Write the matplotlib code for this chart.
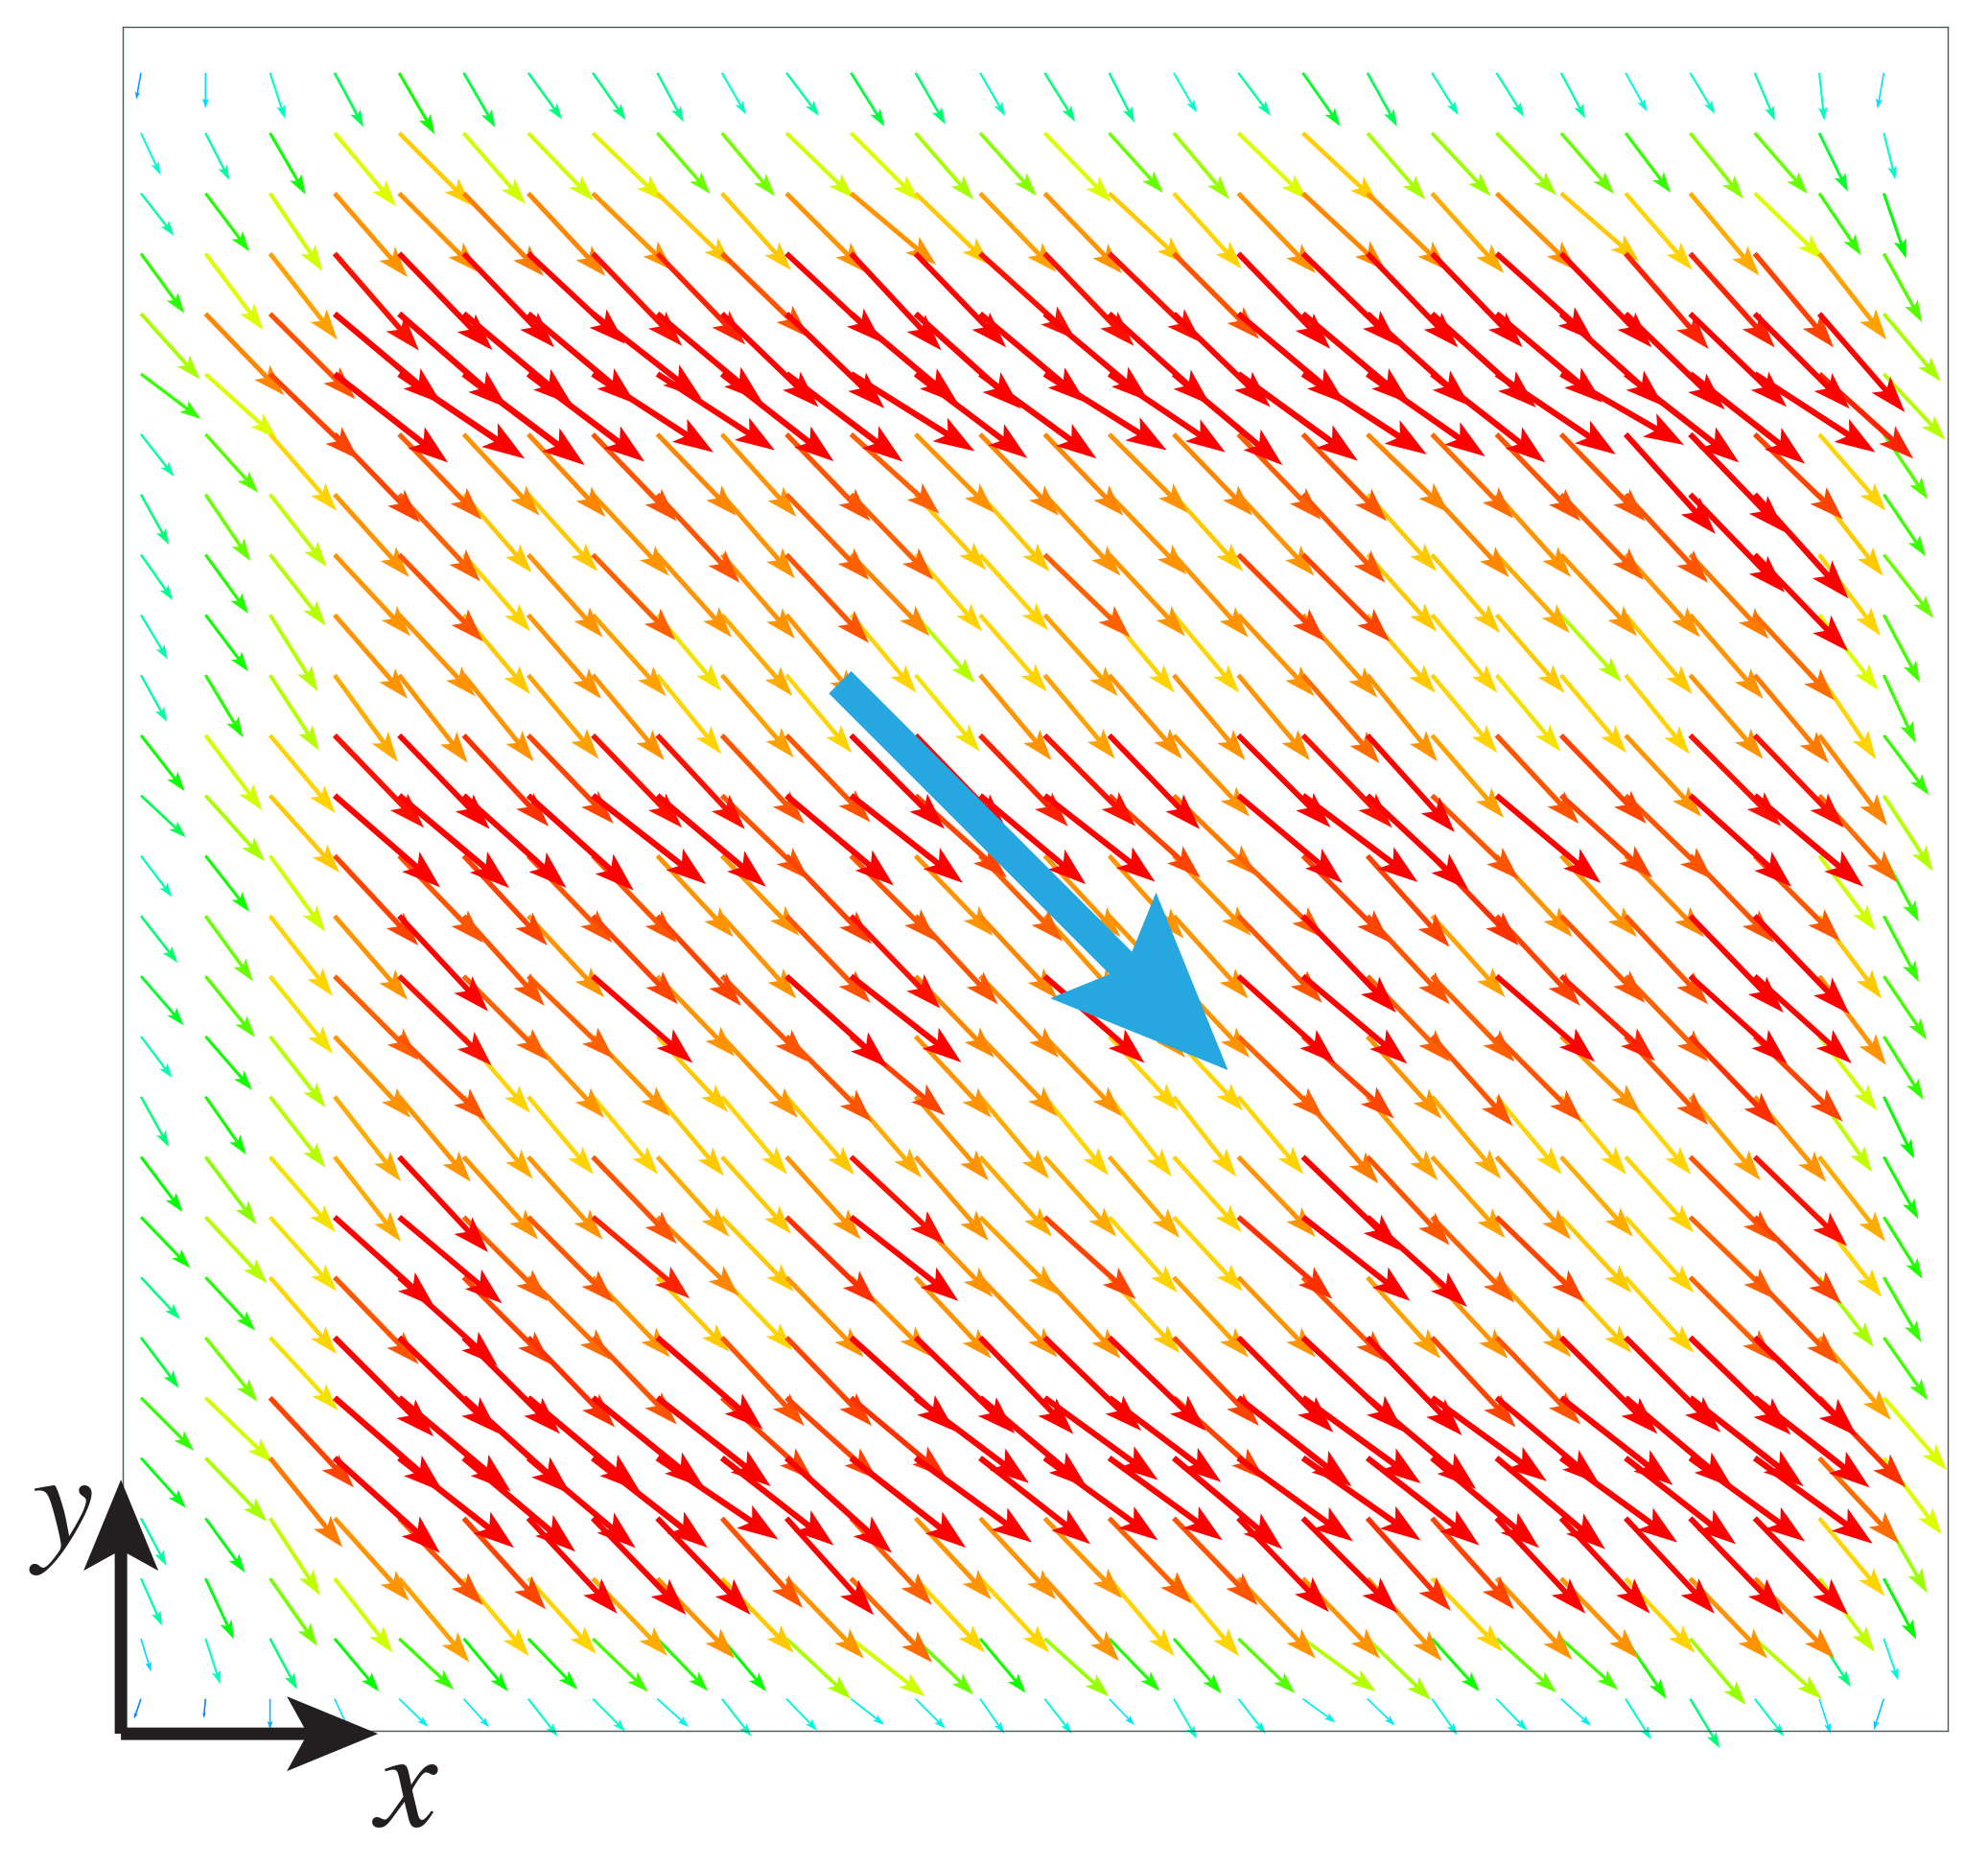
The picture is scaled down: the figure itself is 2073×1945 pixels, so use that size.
import numpy as np
import matplotlib
matplotlib.use('Agg')
import matplotlib.pyplot as plt
from matplotlib.colors import LinearSegmentedColormap, Normalize

plt.rcParams['mathtext.fontset'] = 'stix'

# arrow length, one list per row, top row first
magnitude = np.array([
    [28,37,50,64,74,66,60,60,58,50,56,66,62,52,60,58,48,56,68,64,52,54,54,46,50,54,50,38],
    [48,55,74,100,107,98,98,102,84,86,98,100,92,88,100,84,90,100,107,92,90,90,84,78,88,84,68,50],
    [56,76,98,116,116,120,118,116,108,108,116,116,108,114,116,108,106,116,118,116,112,116,108,106,112,100,78,72],
    [77,100,114,134,140,136,138,134,132,126,136,138,136,134,134,134,126,138,138,136,136,136,136,132,132,128,114,82],
    [92,118,126,146,150,148,146,144,142,140,142,146,148,144,142,142,140,146,146,144,146,144,144,144,140,140,136,92],
    [78,100,128,150,158,158,152,150,146,148,152,152,146,150,150,146,148,154,154,150,150,150,148,150,152,150,132,94],
    [56,82,106,128,124,116,118,126,118,116,126,124,116,118,118,116,118,124,126,118,122,126,126,140,142,128,106,82],
    [60,84,96,116,124,108,108,116,126,116,124,124,108,108,116,116,108,116,126,108,118,116,124,126,142,146,108,78],
    [58,76,94,116,126,106,116,124,116,116,126,118,106,106,124,116,116,128,128,108,108,112,116,116,120,140,106,84],
    [54,74,94,116,116,108,116,114,104,112,116,106,94,106,114,106,106,116,116,108,106,108,94,108,116,122,100,80],
    [56,76,94,112,116,116,114,116,106,114,106,106,104,116,114,116,116,116,122,116,106,104,106,106,116,120,106,78],
    [74,98,106,134,136,130,128,134,134,126,126,138,136,132,134,136,116,136,134,136,114,126,128,116,134,134,118,78],
    [64,92,108,146,150,144,148,150,148,126,146,148,128,144,146,128,120,142,150,144,126,142,128,126,142,148,122,94],
    [54,74,98,128,126,128,126,126,116,116,128,126,116,124,116,116,116,124,128,128,130,116,116,118,126,126,98,78],
    [62,84,106,116,136,126,116,128,128,116,126,134,126,118,116,116,116,126,140,126,114,128,126,126,140,142,108,78],
    [68,82,104,124,134,124,124,138,116,126,142,146,118,118,138,116,116,136,142,124,124,136,132,124,136,136,116,80],
    [54,74,94,116,126,106,116,116,108,116,126,128,116,116,116,106,106,124,128,116,126,126,116,126,130,128,98,78],
    [60,74,94,112,116,112,106,106,108,106,108,112,116,112,106,106,106,106,120,114,112,106,106,106,114,116,96,72],
    [72,88,104,112,136,116,116,126,112,108,116,134,116,112,112,112,106,116,140,126,114,116,112,106,126,134,112,74],
    [74,94,104,140,140,124,126,132,118,108,130,142,116,114,128,106,106,130,142,140,124,128,108,106,124,128,106,76],
    [60,76,106,126,138,128,122,116,108,106,116,116,116,116,116,108,114,116,126,114,116,114,108,106,124,126,92,78],
    [66,86,104,146,144,142,130,126,146,126,128,146,144,140,140,140,128,140,144,142,128,126,142,140,146,148,114,80],
    [78,98,128,150,152,150,152,150,150,128,128,130,148,146,146,146,128,150,152,148,148,140,148,146,150,152,130,100],
    [70,92,120,148,152,152,146,152,152,148,148,152,150,146,146,146,148,148,150,148,146,148,150,146,148,152,122,100],
    [56,70,96,116,126,128,136,140,140,126,136,124,116,116,116,124,126,136,140,130,128,136,136,136,140,140,106,90],
    [54,70,86,98,114,106,106,112,116,108,116,122,106,106,116,106,106,116,116,116,106,116,116,106,116,118,96,72],
    [36,50,60,72,78,72,74,80,76,72,92,98,84,74,90,76,76,82,94,92,74,84,80,76,90,94,60,46],
    [22,20,32,38,42,40,50,48,44,50,46,44,44,44,46,38,48,46,42,40,46,46,42,50,60,50,38,34],
])

# arrow direction in degrees, same layout
direction = np.array([
    [-100,-90,-72,-62,-60,-60,-54,-55,-62,-60,-53,-58,-60,-60,-58,-63,-60,-53,-55,-61,-58,-58,-62,-61,-59,-67,-84,-100],
    [-65,-63,-60,-50,-45,-49,-46,-44,-49,-50,-44,-45,-49,-48,-46,-48,-50,-44,-43,-49,-47,-46,-49,-53,-51,-49,-64,-76],
    [-52,-53,-56,-49,-45,-46,-47,-44,-44,-48,-45,-40,-44,-46,-46,-43,-48,-46,-43,-44,-48,-44,-41,-49,-50,-44,-56,-71],
    [-54,-53,-52,-49,-46,-46,-43,-46,-46,-44,-43,-47,-46,-42,-46,-44,-45,-46,-44,-46,-46,-42,-46,-49,-48,-50,-52,-61],
    [-48,-46,-45,-40,-41,-40,-40,-38,-40,-44,-44,-40,-42,-40,-40,-42,-44,-40,-40,-42,-42,-40,-42,-44,-44,-45,-49,-50],
    [-37,-42,-44,-38,-34,-37,-37,-33,-33,-38,-37,-32,-37,-36,-32,-34,-40,-36,-33,-35,-38,-34,-30,-38,-38,-33,-42,-47],
    [-52,-48,-49,-46,-46,-47,-47,-46,-46,-48,-46,-42,-45,-46,-46,-45,-46,-46,-46,-44,-46,-46,-46,-48,-46,-44,-49,-56],
    [-61,-56,-52,-48,-47,-49,-48,-47,-47,-49,-46,-46,-47,-48,-47,-46,-48,-47,-47,-48,-47,-48,-46,-47,-46,-48,-52,-56],
    [-55,-54,-52,-47,-46,-49,-48,-46,-48,-49,-47,-46,-49,-48,-44,-47,-48,-45,-45,-48,-49,-47,-47,-48,-47,-46,-53,-52],
    [-59,-53,-58,-49,-47,-50,-49,-48,-50,-49,-50,-50,-49,-49,-48,-50,-50,-47,-48,-49,-50,-49,-48,-50,-49,-47,-52,-62],
    [-61,-59,-57,-54,-52,-51,-50,-50,-51,-49,-50,-51,-50,-50,-50,-49,-50,-50,-49,-51,-50,-50,-50,-51,-49,-50,-56,-65],
    [-52,-53,-50,-46,-46,-47,-46,-46,-47,-47,-46,-45,-46,-46,-45,-46,-47,-45,-46,-48,-49,-47,-46,-47,-45,-46,-53,-53],
    [-43,-48,-48,-41,-40,-42,-42,-38,-40,-44,-40,-38,-42,-40,-38,-42,-44,-40,-37,-43,-44,-40,-42,-44,-42,-40,-48,-57],
    [-53,-52,-54,-47,-46,-47,-46,-46,-47,-46,-46,-45,-46,-46,-47,-48,-46,-44,-45,-48,-46,-47,-47,-46,-46,-45,-53,-62],
    [-52,-54,-52,-49,-47,-48,-47,-46,-47,-48,-46,-46,-47,-47,-48,-47,-48,-46,-46,-47,-48,-47,-46,-47,-46,-46,-53,-62],
    [-49,-51,-51,-45,-44,-45,-44,-41,-46,-45,-42,-38,-46,-46,-41,-47,-47,-42,-40,-46,-46,-41,-42,-46,-42,-42,-53,-56],
    [-53,-49,-52,-47,-44,-49,-47,-46,-47,-47,-45,-40,-47,-46,-46,-47,-47,-44,-42,-48,-48,-45,-44,-47,-46,-44,-52,-58],
    [-61,-55,-52,-52,-50,-50,-50,-50,-50,-50,-49,-49,-49,-50,-51,-52,-52,-50,-49,-50,-50,-50,-50,-50,-50,-50,-55,-64],
    [-53,-53,-49,-52,-47,-48,-48,-46,-48,-48,-48,-43,-49,-48,-48,-49,-48,-46,-44,-47,-48,-48,-48,-48,-45,-44,-52,-61],
    [-46,-47,-48,-42,-40,-45,-45,-40,-44,-46,-44,-38,-46,-45,-42,-48,-47,-41,-38,-42,-46,-44,-47,-48,-44,-45,-52,-58],
    [-47,-47,-49,-46,-42,-45,-45,-46,-46,-46,-46,-45,-47,-46,-47,-47,-47,-46,-45,-48,-47,-47,-47,-48,-45,-46,-52,-60],
    [-53,-51,-47,-45,-44,-45,-46,-46,-41,-47,-46,-42,-44,-46,-44,-44,-46,-45,-43,-46,-47,-46,-45,-45,-44,-44,-49,-55],
    [-45,-44,-47,-41,-40,-42,-40,-39,-38,-42,-42,-40,-37,-40,-36,-37,-42,-38,-36,-40,-36,-40,-38,-40,-38,-38,-46,-49],
    [-48,-46,-51,-42,-38,-40,-40,-38,-34,-38,-42,-38,-36,-38,-36,-36,-40,-36,-35,-38,-40,-40,-36,-38,-36,-36,-47,-53],
    [-62,-54,-57,-48,-46,-48,-47,-46,-46,-48,-48,-47,-47,-47,-46,-46,-46,-46,-45,-48,-48,-47,-47,-47,-46,-46,-50,-60],
    [-66,-65,-55,-52,-50,-50,-48,-46,-46,-46,-46,-46,-47,-47,-48,-50,-50,-46,-46,-48,-46,-47,-46,-47,-46,-45,-53,-62],
    [-73,-72,-62,-50,-43,-50,-46,-44,-46,-50,-43,-38,-44,-50,-42,-46,-49,-44,-36,-44,-48,-42,-42,-56,-50,-42,-57,-71],
    [-109,-95,-90,-65,-44,-48,-52,-45,-42,-52,-46,-38,-45,-55,-52,-46,-60,-52,-36,-44,-55,-46,-42,-58,-59,-52,-72,-108],
])

# colour stops against arrow length
color_lengths = [20, 30, 38, 48, 58, 72, 84, 92, 100, 106, 116, 126, 136, 160]
color_names = ['#0a7cff', '#0aa8ff', '#00e5ff', '#00ffd0', '#00ff90', '#00ff00', '#66ff00',
               '#a8ff00', '#ddff00', '#ffd500', '#ff9400', '#ff5500', '#ff0000', '#ff0000']

# the large blue arrow and the two axis arrows
field_column, field_row, field_length, field_angle = 10.83, 10.12, 572, -45
origin_column, origin_row = -0.31, 27.58
x_arrow_length, y_arrow_length = 268, 265

norm = Normalize(color_lengths[0], color_lengths[-1])
stops = [(norm(v), c) for v, c in zip(color_lengths, color_names)]
cmap = LinearSegmentedColormap.from_list('field', stops)

fig = plt.figure(figsize=(20.73, 19.45), dpi=100)
ax = fig.add_axes([128 / 2073, 1 - 1805 / 1945, (2031 - 128) / 2073, (1805 - 28) / 1945])
ax.set_xlim(-0.282, 27.99)
ax.set_ylim(27.53, -0.764)
ax.set_xticks([])
ax.set_yticks([])
for side in ax.spines.values():
    side.set_color('#4a5a50')
    side.set_linewidth(1.0)

columns, rows = np.meshgrid(np.arange(28), np.arange(28))
u = magnitude * np.cos(np.radians(direction))
v = magnitude * np.sin(np.radians(direction))


def draw_arrow(xs, ys, us, vs, color, shaft, head_width, head_length, notch, zorder=2):
    q = ax.quiver(xs, ys, us, vs, color=color, pivot='tail', angles='uv',
                  scale_units='dots', scale=1, units='dots', width=shaft,
                  headwidth=head_width / shaft, headlength=head_length / shaft,
                  headaxislength=notch / shaft, minlength=0, zorder=zorder)
    q.set_clip_on(False)
    return q


# arrows get thicker with their length, so each length is its own quiver
for length in np.unique(magnitude):
    m = magnitude == length
    draw_arrow(columns[m], rows[m], u[m], v[m], cmap(norm(length)),
               max(1.6, 0.042 * length), 0.19 * length, 0.28 * length, 0.23 * length)

draw_arrow([field_column], [field_row],
           [field_length * np.cos(np.radians(field_angle))],
           [field_length * np.sin(np.radians(field_angle))],
           '#27a7df', 33, 156, 184, 158, zorder=5)

draw_arrow([origin_column], [origin_row], [x_arrow_length], [0], '#231f20', 13, 78, 95, 77, zorder=6)
draw_arrow([origin_column], [origin_row], [0], [y_arrow_length], '#231f20', 13, 78, 95, 77, zorder=6)

fig.text(423 / 2073, 1 - 1864 / 1945, '$x$', fontsize=104, color='#231f20', ha='center', va='center')
fig.text(64 / 2073, 1 - 1575 / 1945, '$y$', fontsize=104, color='#231f20', ha='center', va='center')

fig.savefig('out.png', dpi=100)
